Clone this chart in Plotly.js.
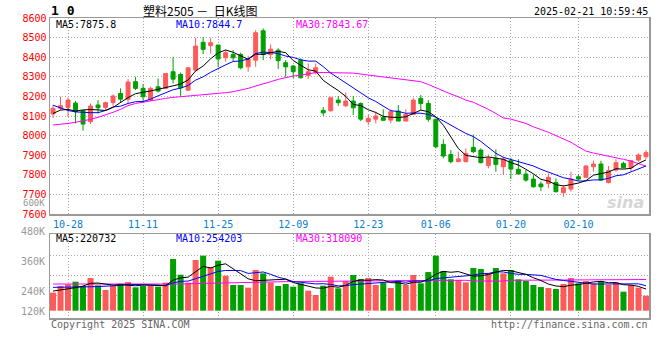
<!DOCTYPE html>
<html><head><meta charset="utf-8">
<script src="https://cdn.plot.ly/plotly-3.0.1.min.js"></script>
<style>html,body{margin:0;padding:0;background:#fff}#chart{width:660px;height:360px}</style>
</head><body><div id="chart"></div>
<script>
const dates = ['10-24','10-25','10-28','10-29','10-30','10-31',
'11-01','11-04','11-05','11-06','11-07','11-08','11-11','11-12','11-13','11-14','11-15','11-18','11-19','11-20','11-21','11-22','11-25','11-26','11-27','11-28','11-29',
'12-02','12-03','12-04','12-05','12-06','12-09','12-10','12-11','12-12','12-13','12-16','12-17','12-18','12-19','12-20','12-23','12-24','12-25','12-26','12-27','12-30','12-31',
'01-02','01-03','01-06','01-07','01-08','01-09','01-10','01-13','01-14','01-15','01-16','01-17','01-20','01-21','01-22','01-23','01-24','01-27',
'02-05','02-06','02-07','02-10','02-11','02-12','02-13','02-14','02-17','02-18','02-19','02-20','02-21'];

const openP = [8110,8139,8144,8166,8127,8071,8156,8144,8168,8215,
8185,8275,8241,8181,8249,8241,8326,8312,8232,8334,
8476,8459,8462,8397,8414,8414,8351,8385,8535,8414,
8436,8372,8355,8385,8306,8322,8129,8127,8181,8152,
8176,8164,8071,8084,8093,8079,8125,8074,8108,8190,
8164,8083,7955,7904,7867,7867,7940,7926,7847,7884,
7841,7872,7828,7804,7778,7753,7756,7761,7709,7727,
7790,7787,7841,7855,7760,7824,7858,7836,7875,7892];
const highP = [8156,8198,8195,8176,8130,8164,8181,8173,8210,8241,
8289,8300,8263,8249,8292,8317,8402,8322,8348,8499,
8503,8499,8462,8436,8436,8423,8408,8538,8547,8465,
8445,8385,8360,8394,8368,8368,8146,8198,8202,8220,
8202,8169,8105,8122,8134,8134,8156,8134,8193,8207,
8181,8088,7981,7926,7918,7935,8006,7935,7904,7930,
7892,7887,7880,7824,7799,7765,7807,7782,7748,7816,
7802,7848,7872,7872,7845,7880,7867,7875,7909,7926];
const lowP = [8090,8130,8096,8062,8025,8059,8113,8130,8152,8169,
8164,8232,8169,8176,8220,8237,8266,8202,8227,8329,
8416,8419,8351,8377,8380,8338,8326,8351,8385,8389,
8340,8300,8292,8292,8289,8312,8100,8122,8152,8147,
8105,8074,8054,8062,8074,8062,8074,8074,8105,8130,
8071,7935,7884,7858,7867,7864,7909,7858,7833,7816,
7800,7778,7804,7765,7734,7717,7731,7710,7688,7714,
7770,7784,7816,7770,7756,7816,7833,7816,7867,7880];
const closeP = [8139,8152,8181,8122,8059,8151,8142,8168,8202,8186,
8273,8241,8198,8241,8227,8317,8288,8244,8346,8457,
8440,8474,8391,8423,8397,8346,8389,8525,8414,8441,
8382,8351,8326,8295,8326,8346,8116,8193,8168,8176,
8142,8084,8088,8100,8078,8122,8074,8108,8181,8164,
8083,7943,7896,7867,7881,7909,7918,7862,7884,7853,
7880,7829,7804,7773,7739,7739,7787,7714,7734,7778,
7778,7845,7855,7773,7821,7862,7836,7872,7901,7913];

const ma5 = [8113,8130,8134,8125,8131,8133,8131,8128,8144,8170,
8194,8214,8220,8228,8236,8245,8254,8263,8284,8330,
8355,8392,8422,8437,8425,8406,8389,8416,8414,8423,
8430,8423,8383,8359,8336,8329,8282,8255,8230,8200,
8159,8153,8132,8118,8098,8094,8092,8096,8113,8130,
8122,8096,8053,7991,7934,7899,7894,7887,7891,7885,
7879,7862,7850,7828,7805,7777,7768,7750,7743,7750,
7758,7770,7798,7806,7814,7831,7829,7833,7858,7876];
const ma10 = [8155,8140,8128,8121,8118,8117,8117,8128,8146,8150,
8164,8173,8174,8186,8203,8220,8234,8242,8256,8283,
8300,8323,8343,8361,8378,8381,8391,8419,8426,8424,
8418,8406,8399,8387,8380,8380,8352,8319,8294,8268,
8244,8217,8193,8174,8149,8127,8123,8114,8115,8114,
8108,8094,8075,8052,8032,8011,7995,7970,7941,7910,
7889,7878,7869,7859,7845,7828,7815,7800,7785,7778,
7768,7769,7774,7774,7782,7795,7800,7815,7832,7845];
const ma30 = [8054,8057,8062,8068,8074,8083,8093,8105,8119,8134,
8153,8164,8171,8178,8185,8190,8195,8198,8202,8205,
8207,8210,8215,8219,8224,8232,8241,8253,8263,8275,
8287,8297,8304,8309,8316,8321,8322,8322,8321,8321,
8319,8314,8309,8304,8300,8297,8292,8287,8282,8275,
8261,8244,8227,8212,8198,8181,8170,8153,8134,8113,
8090,8084,8074,8062,8045,8032,8017,8000,7983,7966,
7943,7921,7911,7904,7896,7887,7879,7870,7858,7844];

// volume in thousands (K)
const volK = [184,252,269,296,252,333,258,211,252,275,
292,238,252,252,245,286,527,367,286,517,
561,445,510,357,262,262,235,415,381,286,
252,272,245,279,204,160,255,347,228,303,
364,323,333,262,282,231,313,262,364,279,
394,561,405,320,313,289,435,425,381,435,
381,415,320,303,262,241,231,221,272,333,
279,303,279,303,262,286,194,262,235,153];
const vma5 = [200,210,222,235,251,280,282,270,261,266,
258,254,262,262,256,255,312,335,342,397,
452,435,464,478,427,367,325,306,311,316,
314,321,287,267,250,232,229,249,239,259,
299,313,310,317,313,286,284,270,290,290,
322,372,401,392,399,378,352,356,369,393,
411,407,386,371,336,308,271,252,245,260,
267,282,293,299,285,287,265,261,248,221];
const vma10 = [238,238,239,240,242,244,246,248,252,258,
269,268,266,262,261,256,283,299,302,326,
353,374,400,410,412,409,380,385,395,371,
341,323,297,289,283,273,275,268,253,255,
266,271,280,278,286,293,299,290,304,301,
304,328,335,341,344,350,362,379,380,396,
395,380,371,370,365,360,339,319,308,298,
288,277,272,272,272,277,273,277,274,254];
const vma30 = [272,272,272,272,272,272,272,272,266,266,
266,266,266,266,266,268,270,272,275,277,
279,282,285,287,288,289,290,291,292,293,
295,296,297,298,299,300,300,300,300,300,
301,303,304,305,306,307,308,308,308,309,
309,309,309,310,310,310,302,302,302,302,
302,310,310,310,310,310,310,310,311,311,
311,312,312,312,313,314,316,317,318,318];

const priceTicks = [7600,7700,7800,7900,8000,8100,8200,8300,8400,8500,8600];
const dateTicks = ['10-28','11-11','11-25','12-09','12-23','01-06','01-20','02-10'];
const volGrid = [157,361,565];
const volTickLabels = ['480K','360K','240K','120K'];
const priceLegend = ['MA5:7875.8','MA10:7844.7','MA30:7843.67'];
const volLegend = ['MA5:220732','MA10:254203','MA30:318090'];

const RED = '#FF5A5A', GREEN = '#00A000';
const MONO = 'DejaVu Sans Mono, Liberation Mono, monospace';
const legendColors = ['#000000','#0000FF','#FF00FF'];

const volColors = closeP.map((c,i) => c >= openP[i] ? RED : GREEN);

const traces = [
  {type:'candlestick', x:dates, open:openP, high:highP, low:lowP, close:closeP,
   xaxis:'x', yaxis:'y', whiskerwidth:0,
   increasing:{line:{color:RED,width:1}, fillcolor:RED},
   decreasing:{line:{color:GREEN,width:1}, fillcolor:GREEN}},
  {type:'scatter', mode:'lines', x:dates, y:ma30, xaxis:'x', yaxis:'y', line:{color:'#FF00FF',width:1}},
  {type:'scatter', mode:'lines', x:dates, y:ma10, xaxis:'x', yaxis:'y', line:{color:'#0000FF',width:1}},
  {type:'scatter', mode:'lines', x:dates, y:ma5, xaxis:'x', yaxis:'y', line:{color:'#000000',width:1}},
  {type:'bar', x:dates, y:volK, xaxis:'x2', yaxis:'y2', marker:{color:volColors, line:{width:0}}},
  {type:'scatter', mode:'lines', x:dates, y:vma30, xaxis:'x2', yaxis:'y2', line:{color:'#FF00FF',width:1}},
  {type:'scatter', mode:'lines', x:dates, y:vma10, xaxis:'x2', yaxis:'y2', line:{color:'#0000FF',width:1}},
  {type:'scatter', mode:'lines', x:dates, y:vma5, xaxis:'x2', yaxis:'y2', line:{color:'#000000',width:1}}
];

// pixel -> paper helpers (plot area x 50..649, y 18..318)
const PX = px => (px - 50) / 599;
const PY = py => (318 - py) / 300;
function ann(text, px, py, anchor, color, size, extra) {
  return Object.assign({text:text, x:PX(px), y:PY(py), xref:'paper', yref:'paper',
    xanchor:anchor, yanchor:'middle', showarrow:false,
    font:{family:MONO, size:size||10, color:color||'#000'}}, extra||{});
}

const annotations = [
  ann('<b>1 0</b>', 49, 11, 'left', '#000', 13),
  ann('塑料2505 －  日K线图', 200, 11, 'center', '#000', 12, {font:{family:'Noto Sans CJK SC', size:12, color:'#000'}}),
  ann('2025-02-21 10:59:45', 650, 12, 'right', '#000', 10),
  ann(priceLegend[0], 54, 24, 'left', legendColors[0]),
  ann(priceLegend[1], 174, 24, 'left', legendColors[1]),
  ann(priceLegend[2], 294, 24, 'left', legendColors[2]),
  ann(volLegend[0], 54, 238, 'left', legendColors[0]),
  ann(volLegend[1], 174, 238, 'left', legendColors[1]),
  ann(volLegend[2], 294, 238, 'left', legendColors[2]),
  ann('600K', 47, 203, 'right', '#999', 9),
  ann(volTickLabels[0], 47, 231, 'right', '#999'),
  ann(volTickLabels[1], 47, 261, 'right', '#999'),
  ann(volTickLabels[2], 47, 291, 'right', '#999'),
  ann(volTickLabels[3], 47, 311, 'right', '#999'),
  ann('Copyright 2025 SINA.COM', 49, 324, 'left', '#666'),
  ann('http://finance.sina.com.cn', 650, 324, 'right', '#666'),
  ann('<b><i>sina</i></b>', 646, 202, 'right', '#d9d9d9', 16, {font:{family:'DejaVu Sans', size:16, color:'#d6d6d6'}})
];

const gridStyle = {showgrid:true, gridcolor:'#aaaaaa', gridwidth:1, griddash:'1px,2px',
  showline:true, mirror:true, linecolor:'#999999', linewidth:1.5, zeroline:false, ticks:'', fixedrange:true};

const layout = {
  width:660, height:360, margin:{l:50, r:11, t:18, b:42, pad:0},
  paper_bgcolor:'#ffffff', plot_bgcolor:'#ffffff', showlegend:false, hovermode:false,
  boxgap:0.25, bargap:0.2,
  font:{family:MONO, size:10, color:'#000'},
  xaxis: Object.assign({}, gridStyle, {type:'category', range:[-0.4,79.4], anchor:'y', domain:[0,1],
    tickmode:'array', tickvals:dateTicks, ticktext:dateTicks,
    tickfont:{family:MONO, size:10, color:'#0a7fd0'}, rangeslider:{visible:false}}),
  xaxis2: Object.assign({}, gridStyle, {type:'category', range:[-0.4,79.4], anchor:'y2', domain:[0,1],
    tickmode:'array', tickvals:dateTicks, showticklabels:false}),
  yaxis: Object.assign({}, gridStyle, {domain:[104/300, 1], range:[7600,8600], anchor:'x',
    tickmode:'array', tickvals:priceTicks, ticktext:priceTicks.map(String),
    tickfont:{family:MONO, size:10, color:'#ff0000'}}),
  yaxis2: Object.assign({}, gridStyle, {domain:[0, 83.7/300], range:[-74.5,779], anchor:'x2',
    tickmode:'array', tickvals:volGrid, showticklabels:false}),
  annotations: annotations
};

Plotly.newPlot('chart', traces, layout, {staticPlot:true, displayModeBar:false});
</script>
</body></html>
